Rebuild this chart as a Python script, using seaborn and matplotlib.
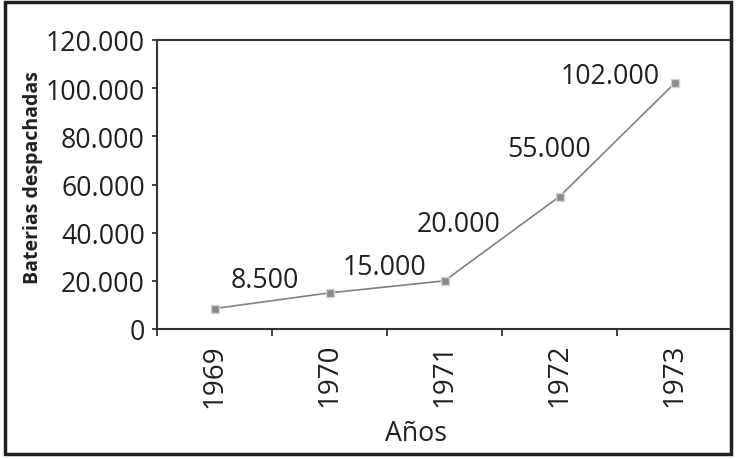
import numpy as np
import pandas as pd
import matplotlib
matplotlib.use("Agg")
import matplotlib.pyplot as plt
from matplotlib.ticker import FuncFormatter, FixedLocator
from matplotlib.patches import Rectangle
import seaborn as sns

# Baterías despachadas por año
years = ["1969", "1970", "1971", "1972", "1973"]
batteries = [8500, 15000, 20000, 55000, 102000]
value_labels = ["8.500", "15.000", "20.000", "55.000", "102.000"]
y_ticks = [0, 20000, 40000, 60000, 80000, 100000, 120000]

# label offsets (pixels) from each point
label_offsets = [(50, 29), (55, 26), (14, 57), (-10, 48), (-64, 7)]

sns.set_theme(style="white")
plt.rcParams["font.family"] = ["Open Sans", "DejaVu Sans"]

DPI = 100
fig = plt.figure(figsize=(7.37, 4.60), dpi=DPI)
W, H = 737, 460
ax = fig.add_axes([157 / W, 1 - 330 / H, (732 - 157) / W, (330 - 41) / H])

pos = np.arange(len(years))
df = pd.DataFrame({"pos": pos, "year": years, "value": batteries})

sns.lineplot(data=df, x="pos", y="value", ax=ax, color="#808080",
             linewidth=1.2, marker="s", legend=False)
line = ax.get_lines()[0]
line.set_markersize(5.5)
line.set_markerfacecolor("#8a8a8a")
line.set_markeredgecolor("#d4d4d4")
line.set_markeredgewidth(1.0)

text_size = 19.2
ink = "#231f20"

for x, v, lab, off in zip(pos, batteries, value_labels, label_offsets):
    ax.annotate(lab, (x, v), xytext=off, textcoords="offset pixels",
                ha="center", va="center", fontsize=text_size, color=ink)

# axes limits and ticks
ax.set_xlim(-0.5, len(years) - 0.5)
ax.set_ylim(y_ticks[0], y_ticks[-1])
ax.yaxis.set_major_locator(FixedLocator(y_ticks))
ax.yaxis.set_major_formatter(FuncFormatter(lambda v, p: f"{int(v):,}".replace(",", ".")))

ax.set_xticks(np.arange(-0.5, len(years), 1.0))
ax.set_xticklabels([])
ax.set_xticks(pos, labels=years, minor=True)

ax.tick_params(axis="y", which="major", direction="out", length=3.8, width=1.3,
               color="#333333", labelsize=text_size, labelcolor=ink, pad=5, left=True)
ax.tick_params(axis="x", which="major", direction="out", length=5, width=1.3,
               color="#333333", bottom=True)
ax.tick_params(axis="x", which="minor", length=0, labelsize=20, labelcolor=ink,
               pad=10, labelrotation=90)

for s in ax.spines.values():
    s.set_color("#333333")
    s.set_linewidth(1.5)
    s.set_visible(True)

ax.set_xlabel("Años", fontsize=text_size, color=ink, va="center")
ax.xaxis.set_label_coords((416 - 157) / 575, (330 - 434) / 289)
ax.set_ylabel("Baterias despachadas", fontsize=14, fontweight="bold", color=ink,
              va="center")
ax.yaxis.set_label_coords((33 - 157) / 575, (330 - 178) / 289)

ax.grid(False)

# outer frame around the whole chart
fig.patches.append(Rectangle((5 / W, 1 - 455 / H), (731 - 5) / W, (455 - 3) / H,
                             transform=fig.transFigure, fill=False,
                             edgecolor=ink, linewidth=2.5, zorder=10))

fig.savefig("out.png", dpi=DPI)
